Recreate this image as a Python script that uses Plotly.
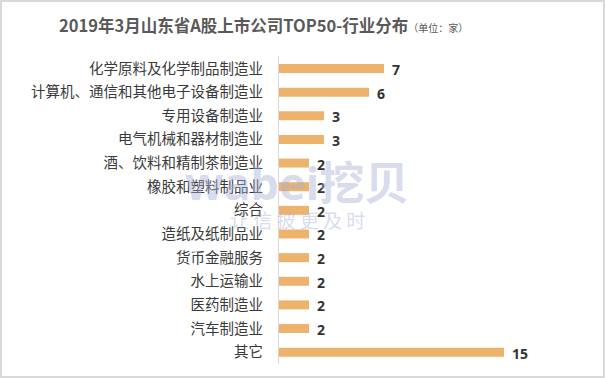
import plotly.graph_objects as go

categories = ["化学原料及化学制品制造业", "计算机、通信和其他电子设备制造业", "专用设备制造业",
              "电气机械和器材制造业", "酒、饮料和精制茶制造业", "橡胶和塑料制品业", "综合",
              "造纸及纸制品业", "货币金融服务", "水上运输业", "医药制造业", "汽车制造业", "其它"]
values = [7, 6, 3, 3, 2, 2, 2, 2, 2, 2, 2, 2, 15]

title_main = "2019年3月山东省A股上市公司TOP50-行业分布"
title_unit = "（单位：家）"

font_cjk = "Microsoft YaHei, Noto Sans CJK SC, sans-serif"

fig = go.Figure()
fig.add_trace(go.Bar(
    x=values, y=categories, orientation="h",
    marker=dict(color="#EDB36C", line=dict(width=0)),
    width=0.38, hoverinfo="x+y",
))

for c, v in zip(categories, values):
    fig.add_annotation(x=v, y=c, text=f"<b>{v}</b>", showarrow=False,
                       xanchor="left", xshift=6, yshift=-1,
                       font=dict(family="Noto Sans, " + font_cjk, size=14, color="#333333"))

# watermark
fig.add_annotation(xref="paper", yref="paper", x=-0.32, y=0.59, xanchor="left", yanchor="middle",
                   text="<b>wabei挖贝</b>", showarrow=False,
                   font=dict(family="Noto Sans, " + font_cjk, size=45, color="rgba(170,176,215,0.45)"))
fig.add_annotation(xref="paper", yref="paper", x=-0.17, y=0.47, xanchor="left", yanchor="middle",
                   text="让 信 披 更 及 时", showarrow=False,
                   font=dict(family=font_cjk, size=19, color="rgba(170,176,215,0.45)"))

fig.add_annotation(xref="paper", yref="paper", x=-0.74, y=1.0, xanchor="left", yanchor="bottom",
                   yshift=17,
                   text=f"<b>{title_main}</b><span style='font-size:10px'>{title_unit}</span>",
                   showarrow=False,
                   font=dict(family=font_cjk, size=16.5, color="#595959"))

fig.update_layout(
    width=605, height=378,
    margin=dict(l=279, r=26, t=56, b=14),
    paper_bgcolor="white", plot_bgcolor="white",
    showlegend=False,
    xaxis=dict(range=[0, 20], visible=False, fixedrange=True),
    yaxis=dict(autorange="reversed", showline=True, linecolor="#d9d9d9", linewidth=1,
               ticks="", ticklabelstandoff=12, showgrid=False, fixedrange=True,
               tickfont=dict(family=font_cjk, size=14.5, color="#3a3a3a")),
    bargap=0.62,
    shapes=[dict(type="rect", xref="paper", yref="paper", x0=-278/300, x1=1+25/300,
                 y0=-13/308, y1=1+55/308, line=dict(color="#d9d9d9", width=2))],
)

fig.write_html("out.html", config={"displayModeBar": False},
               post_script="document.body.style.margin='0';document.body.style.overflow='hidden';")
